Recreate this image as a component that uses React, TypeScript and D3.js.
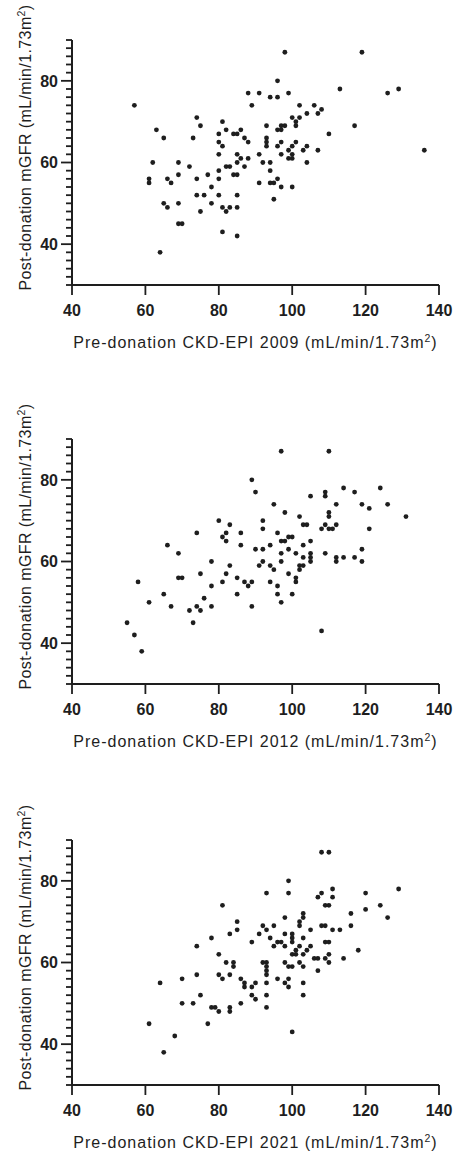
import React from "react";
import * as d3 from "d3";

// ---------- DATA ----------
const xTicks = [40, 60, 80, 100, 120, 140];
const yMajorTicks = [40, 60, 80];
const xDomain = [40, 140];
const yDomain = [30, 90];
const yMinorStep = 2;

const panelTitles = [
  "Pre-donation CKD-EPI 2009 (mL/min/1.73m",
  "Pre-donation CKD-EPI 2012 (mL/min/1.73m",
  "Pre-donation CKD-EPI 2021 (mL/min/1.73m",
];
const yTitle = "Post-donation mGFR (mL/min/1.73m";

const egfr2009 = [57,63,65,62,61,61,66,67,65,66,64,69,69,69,69,70,72,73,74,75,74,74,76,75,77,78,78,80,80,81,80,80,80,80,81,82,82,83,81,82,83,81,84,85,86,87,88,85,86,85,87,84,85,88,85,85,85,88,91,89,91,91,
  92,93,93,93,93,94,94,94,94,95,95,96,96,96,96,96,97,97,97,97,97,98,98,99,99,99,100,101,101,101,100,100,100,100,102,102,103,104,104,104,106,107,108,107,110,113,117,119,126,129,136];
const mgfr2009 = [74,68,66,60,56,55,56,55,50,49,38,60,57,50,45,45,59,66,71,69,56,52,52,48,57,54,50,67,65,64,62,58,56,52,70,68,59,59,49,48,49,43,67,67,68,66,65,62,61,60,59,57,57,61,52,49,42,77,77,74,62,55,
  60,69,66,65,64,76,60,58,55,55,51,80,76,68,64,56,69,68,65,62,54,87,69,77,63,61,71,70,69,65,64,62,61,54,74,71,63,72,64,60,74,72,73,63,67,78,69,87,77,78,63];

const egfr2012 = [55,57,59,58,61,65,66,67,69,69,70,72,73,74,74,75,75,76,78,78,78,80,81,82,82,83,81,82,83,85,85,86,86,87,88,89,89,89,90,90,91,
  92,92,92,92,94,94,95,94,95,96,96,96,97,97,97,97,97,98,98,99,99,99,100,100,101,101,101,102,102,102,103,104,103,103,103,105,105,105,105,105,108,108,109,109,109,109,110,110,110,110,111,112,112,112,112,114,114,117,117,119,119,119,121,121,124,126,131];
const mgfr2012 = [45,42,38,55,50,52,64,49,62,56,56,48,45,67,49,48,57,51,60,54,49,70,66,67,65,69,55,57,59,56,52,67,64,55,54,55,49,80,77,63,59,
  70,68,63,60,64,59,58,55,74,67,54,52,87,65,62,60,50,72,65,66,63,57,66,52,62,56,55,71,59,58,69,69,64,61,59,76,65,62,61,60,68,43,77,76,69,62,87,72,71,68,68,74,69,61,60,78,61,77,61,74,63,60,73,68,78,74,71];

const egfr2021 = [61,64,65,68,70,70,73,74,74,75,77,78,78,79,80,80,80,81,81,82,83,83,83,83,84,84,85,85,86,87,87,86,89,89,89,90,90,91,
  92,92,93,93,93,93,93,93,93,93,93,94,95,95,96,97,96,98,98,98,98,98,99,99,99,99,99,100,100,100,100,100,100,101,101,102,102,102,102,103,103,103,103,103,103,103,104,105,105,106,107,107,107,108,110,108,108,109,109,110,109,110,109,110,110,111,111,111,113,114,116,116,118,120,120,124,126,129];
const mgfr2021 = [45,55,38,42,56,50,50,64,57,52,45,66,49,49,62,57,48,74,56,60,67,57,49,48,60,59,70,68,56,55,54,50,65,54,52,55,51,67,
  69,60,77,68,60,59,58,57,55,52,49,66,69,64,65,65,56,71,67,64,60,55,80,77,59,56,54,67,66,65,62,59,43,63,62,70,69,64,60,72,71,66,62,59,55,52,63,68,64,61,61,76,58,87,87,77,69,69,74,74,65,65,61,62,60,78,76,68,68,61,72,69,63,77,73,74,71,78];

const panelsX = [egfr2009, egfr2012, egfr2021];
const panelsY = [mgfr2009, mgfr2012, mgfr2021];

// ---------- LAYOUT ----------
const W = 456;
const H = 1156;
const plotLeft = 72;
const plotRight = 439;
const plotHeight = 245;
const axisBottoms = [285, 684, 1085];
const font = "'Liberation Sans', Arial, Helvetica, sans-serif";
const ink = "#1e1e1e";

function Panel({ idx }: { idx: number }) {
  const bottom = axisBottoms[idx];
  const top = bottom - plotHeight;
  const x = d3.scaleLinear().domain(xDomain).range([plotLeft, plotRight]);
  const y = d3.scaleLinear().domain(yDomain).range([bottom, top]);
  const minor = d3.range(yDomain[0], yDomain[1] + 0.001, yMinorStep).filter((v) => !yMajorTicks.includes(v));
  const xs = panelsX[idx];
  const ys = panelsY[idx];
  const midY = (top + bottom) / 2 - 15;
  return (
    <g>
      {/* y axis */}
      <line x1={plotLeft} x2={plotLeft} y1={top} y2={bottom} stroke={ink} strokeWidth={2} />
      {minor.map((v) => (
        <line key={"m" + v} x1={plotLeft - 6} x2={plotLeft} y1={y(v)} y2={y(v)} stroke={ink} strokeWidth={1.8} />
      ))}
      {yMajorTicks.map((v) => (
        <g key={"y" + v}>
          <line x1={plotLeft - 11} x2={plotLeft} y1={y(v)} y2={y(v)} stroke={ink} strokeWidth={1.8} />
          <text x={plotLeft - 14} y={y(v)} dy="0.36em" textAnchor="end" fontFamily={font} fontWeight="bold" fontSize={16} fill={ink}>
            {v}
          </text>
        </g>
      ))}
      {/* x axis */}
      <line x1={plotLeft} x2={plotRight} y1={bottom} y2={bottom} stroke={ink} strokeWidth={2} />
      {xTicks.map((v) => (
        <g key={"x" + v}>
          <line x1={x(v)} x2={x(v)} y1={bottom} y2={bottom + 10} stroke={ink} strokeWidth={1.8} />
          <text x={x(v)} y={bottom + 31} textAnchor="middle" fontFamily={font} fontWeight="bold" fontSize={16} fill={ink}>
            {v}
          </text>
        </g>
      ))}
      {/* x title */}
      <text
        x={(plotLeft + plotRight) / 2}
        y={bottom + 63}
        textAnchor="middle"
        fontFamily={font}
        fontSize={16}
        letterSpacing={1}
        fill={ink}
      >
        {panelTitles[idx]}
        <tspan dy={-6.5} fontSize={10.5}>2</tspan>
        <tspan dy={6.5}>)</tspan>
      </text>
      {/* y title */}
      <text
        transform={`translate(31,${midY}) rotate(-90)`}
        textAnchor="middle"
        fontFamily={font}
        fontSize={16}
        letterSpacing={0.4}
        fill={ink}
      >
        {yTitle}
        <tspan dy={-6.5} fontSize={10.5}>2</tspan>
        <tspan dy={6.5}>)</tspan>
      </text>
      {/* points */}
      {xs.map((v, i) => (
        <circle key={i} cx={x(v)} cy={y(ys[i])} r={2.4} fill={ink} />
      ))}
    </g>
  );
}

export default function App() {
  return (
    <svg
      width={W}
      height={H}
      viewBox={`0 0 ${W} ${H}`}
      style={{ position: "absolute", left: 0, top: 0, background: "#fff" }}
    >
      <rect width={W} height={H} fill="#fff" />
      {[0, 1, 2].map((i) => (
        <Panel key={i} idx={i} />
      ))}
    </svg>
  );
}
